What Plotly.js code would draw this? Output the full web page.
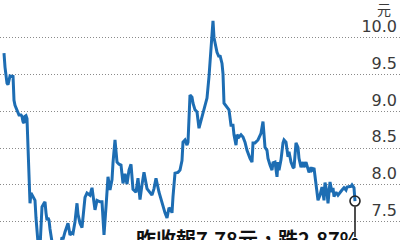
<!DOCTYPE html>
<html>
<head>
<meta charset="utf-8">
<script src="https://cdn.plot.ly/plotly-3.0.1.min.js"></script>
<style>
  html, body { margin: 0; padding: 0; background: #fff; }
  #chart { width: 400px; height: 240px; }
</style>
</head>
<body>
<div id="chart"></div>
<script>
// Trading-day position and closing price (元)
const days = [4,5,7,8,10,12,13,14,15,17,19,21,22,23,24,25,26,27,
  30,31,32,33,35,36,38,39,40,42,44,45,46,47,48,49,50,52,54,57,60,
  62,63,65,67,68,69,70,72,73,75,77,78,80,82,84,85,87,89,90,92,
  95,97,100,102,104,106,108,110,112,113,115,117,119,121,123,125,127,129,131,
  133,136,138,140,142,144,147,150,152,154,156,159,161,163,165,167,169,171,172,
  173,175,178,180,182,183,185,187,188,190,192,193,195,197,199,201,203,205,207,
  209,211,213,214,216,217,219,220,222,223,224,227,229,231,233,234,236,237,239,
  241,243,245,247,250,252,253,255,258,261,263,265,267,268,270,272,273,275,277,
  278,279,281,283,284,286,288,289,291,293,294,296,298,299,301,303,304,306,308,
  309,311,312,314,316,317,318,320,322,323,324,325,327,328,329,330,332,333,334,
  336,338,340,342,344,346,347,349,351,352,354,355];
const prices = [9.79,9.60,9.38,9.36,9.48,9.47,9.49,9.15,9.08,9.00,8.95,8.95,8.93,8.86,8.84,8.93,8.94,8.90,
  7.75,7.89,7.86,7.84,7.79,7.55,7.20,7.05,7.15,7.70,7.75,7.77,7.62,7.52,7.55,7.52,7.40,7.25,7.05,6.95,7.10,
  7.29,7.26,7.36,7.43,7.48,7.40,7.32,7.35,7.34,7.50,7.75,7.60,7.48,7.42,7.65,7.83,7.89,7.86,7.86,7.96,
  7.66,7.79,7.77,7.77,7.32,7.70,8.11,7.93,8.07,8.30,8.61,8.31,8.28,8.27,8.02,8.15,8.01,8.20,8.28,
  7.94,7.90,8.09,7.80,8.00,8.17,7.95,7.90,7.86,7.95,8.09,7.90,7.80,7.70,7.62,7.55,7.69,7.66,7.62,
  7.84,8.16,8.17,8.20,8.33,8.58,8.61,8.54,8.58,9.22,9.19,9.11,9.02,8.99,8.77,8.88,8.98,9.06,9.18,
  9.47,9.80,10.23,10.00,9.87,9.80,9.74,9.76,9.65,9.51,9.11,9.06,9.02,8.81,8.81,8.68,8.54,8.68,8.65,
  8.68,8.65,8.58,8.47,8.36,8.31,8.57,8.57,8.61,8.70,8.86,8.51,8.47,8.36,8.27,8.20,8.30,8.31,8.11,
  8.31,8.20,8.34,8.57,8.61,8.58,8.38,8.45,8.31,8.24,8.23,8.57,8.51,8.36,8.24,8.31,8.24,8.31,8.20,
  8.17,8.24,8.20,8.23,8.00,7.86,7.79,7.86,7.97,7.89,7.79,8.03,7.90,7.75,7.90,8.04,7.90,7.96,7.84,
  7.90,7.86,7.90,7.93,7.96,7.93,7.97,7.97,7.98,8.00,7.96,7.78];
const tickVals = [7.5, 8.0, 8.5, 9.0, 9.5, 10.0];
const tickLabels = ["7.5", "8.0", "8.5", "9.0", "9.5", "10.0"];
const unitLabel = "元";
const lastClose = "7.78";
const changePct = "2.87";
const headline = "昨收報" + lastClose + "元，跌" + changePct + "%";

const lastX = days[days.length - 1];
const lastY = prices[prices.length - 1];

const traces = [
  {
    x: days, y: prices, type: "scatter", mode: "lines",
    line: { color: "#1d6db3", width: 3, shape: "linear" },
    hoverinfo: "skip"
  },
  {
    x: [lastX], y: [lastY], type: "scatter", mode: "markers",
    marker: { symbol: "circle", size: 10, color: "rgba(255,255,255,0)", line: { color: "#222", width: 1.6 } },
    hoverinfo: "skip", cliponaxis: false
  }
];

const layout = {
  width: 400, height: 240,
  margin: { l: 0, r: 0, t: 0, b: 0, pad: 0 },
  paper_bgcolor: "#fff", plot_bgcolor: "#fff",
  showlegend: false,
  xaxis: {
    range: [0, 400], showgrid: false, zeroline: false, showline: false,
    showticklabels: false, ticks: "", fixedrange: true
  },
  yaxis: {
    range: [7.251, 10.512], side: "right",
    tickmode: "array", tickvals: tickVals, ticktext: tickLabels,
    ticklabelposition: "inside top",
    ticks: "", showline: false, zeroline: false,
    showgrid: true, gridcolor: "#8a8a8a", gridwidth: 1, griddash: "1px,2px",
    tickfont: { family: "DejaVu Sans", size: 16, color: "#3a3a3a" },
    fixedrange: true
  },
  shapes: [
    {
      type: "line", xref: "x", yref: "y",
      xsizemode: "pixel", ysizemode: "pixel",
      xanchor: lastX, yanchor: lastY,
      x0: 0, x1: 0, y0: -5.5, y1: -36,
      line: { color: "#222", width: 1.6 }
    }
  ],
  annotations: [
    {
      text: unitLabel, xref: "paper", yref: "paper", x: 0.961, y: 0.964,
      xanchor: "center", yanchor: "middle", showarrow: false,
      font: { family: "Noto Sans CJK TC", size: 14, color: "#3a3a3a" }
    },
    {
      text: "<b>" + headline + "</b>", xref: "paper", yref: "paper",
      x: 0.903, y: 0.074, xanchor: "right", yanchor: "top", showarrow: false,
      font: { family: "Noto Sans CJK TC", size: 20, color: "#111" }
    }
  ]
};

Plotly.newPlot("chart", traces, layout, { staticPlot: true, displayModeBar: false });
</script>
</body>
</html>
